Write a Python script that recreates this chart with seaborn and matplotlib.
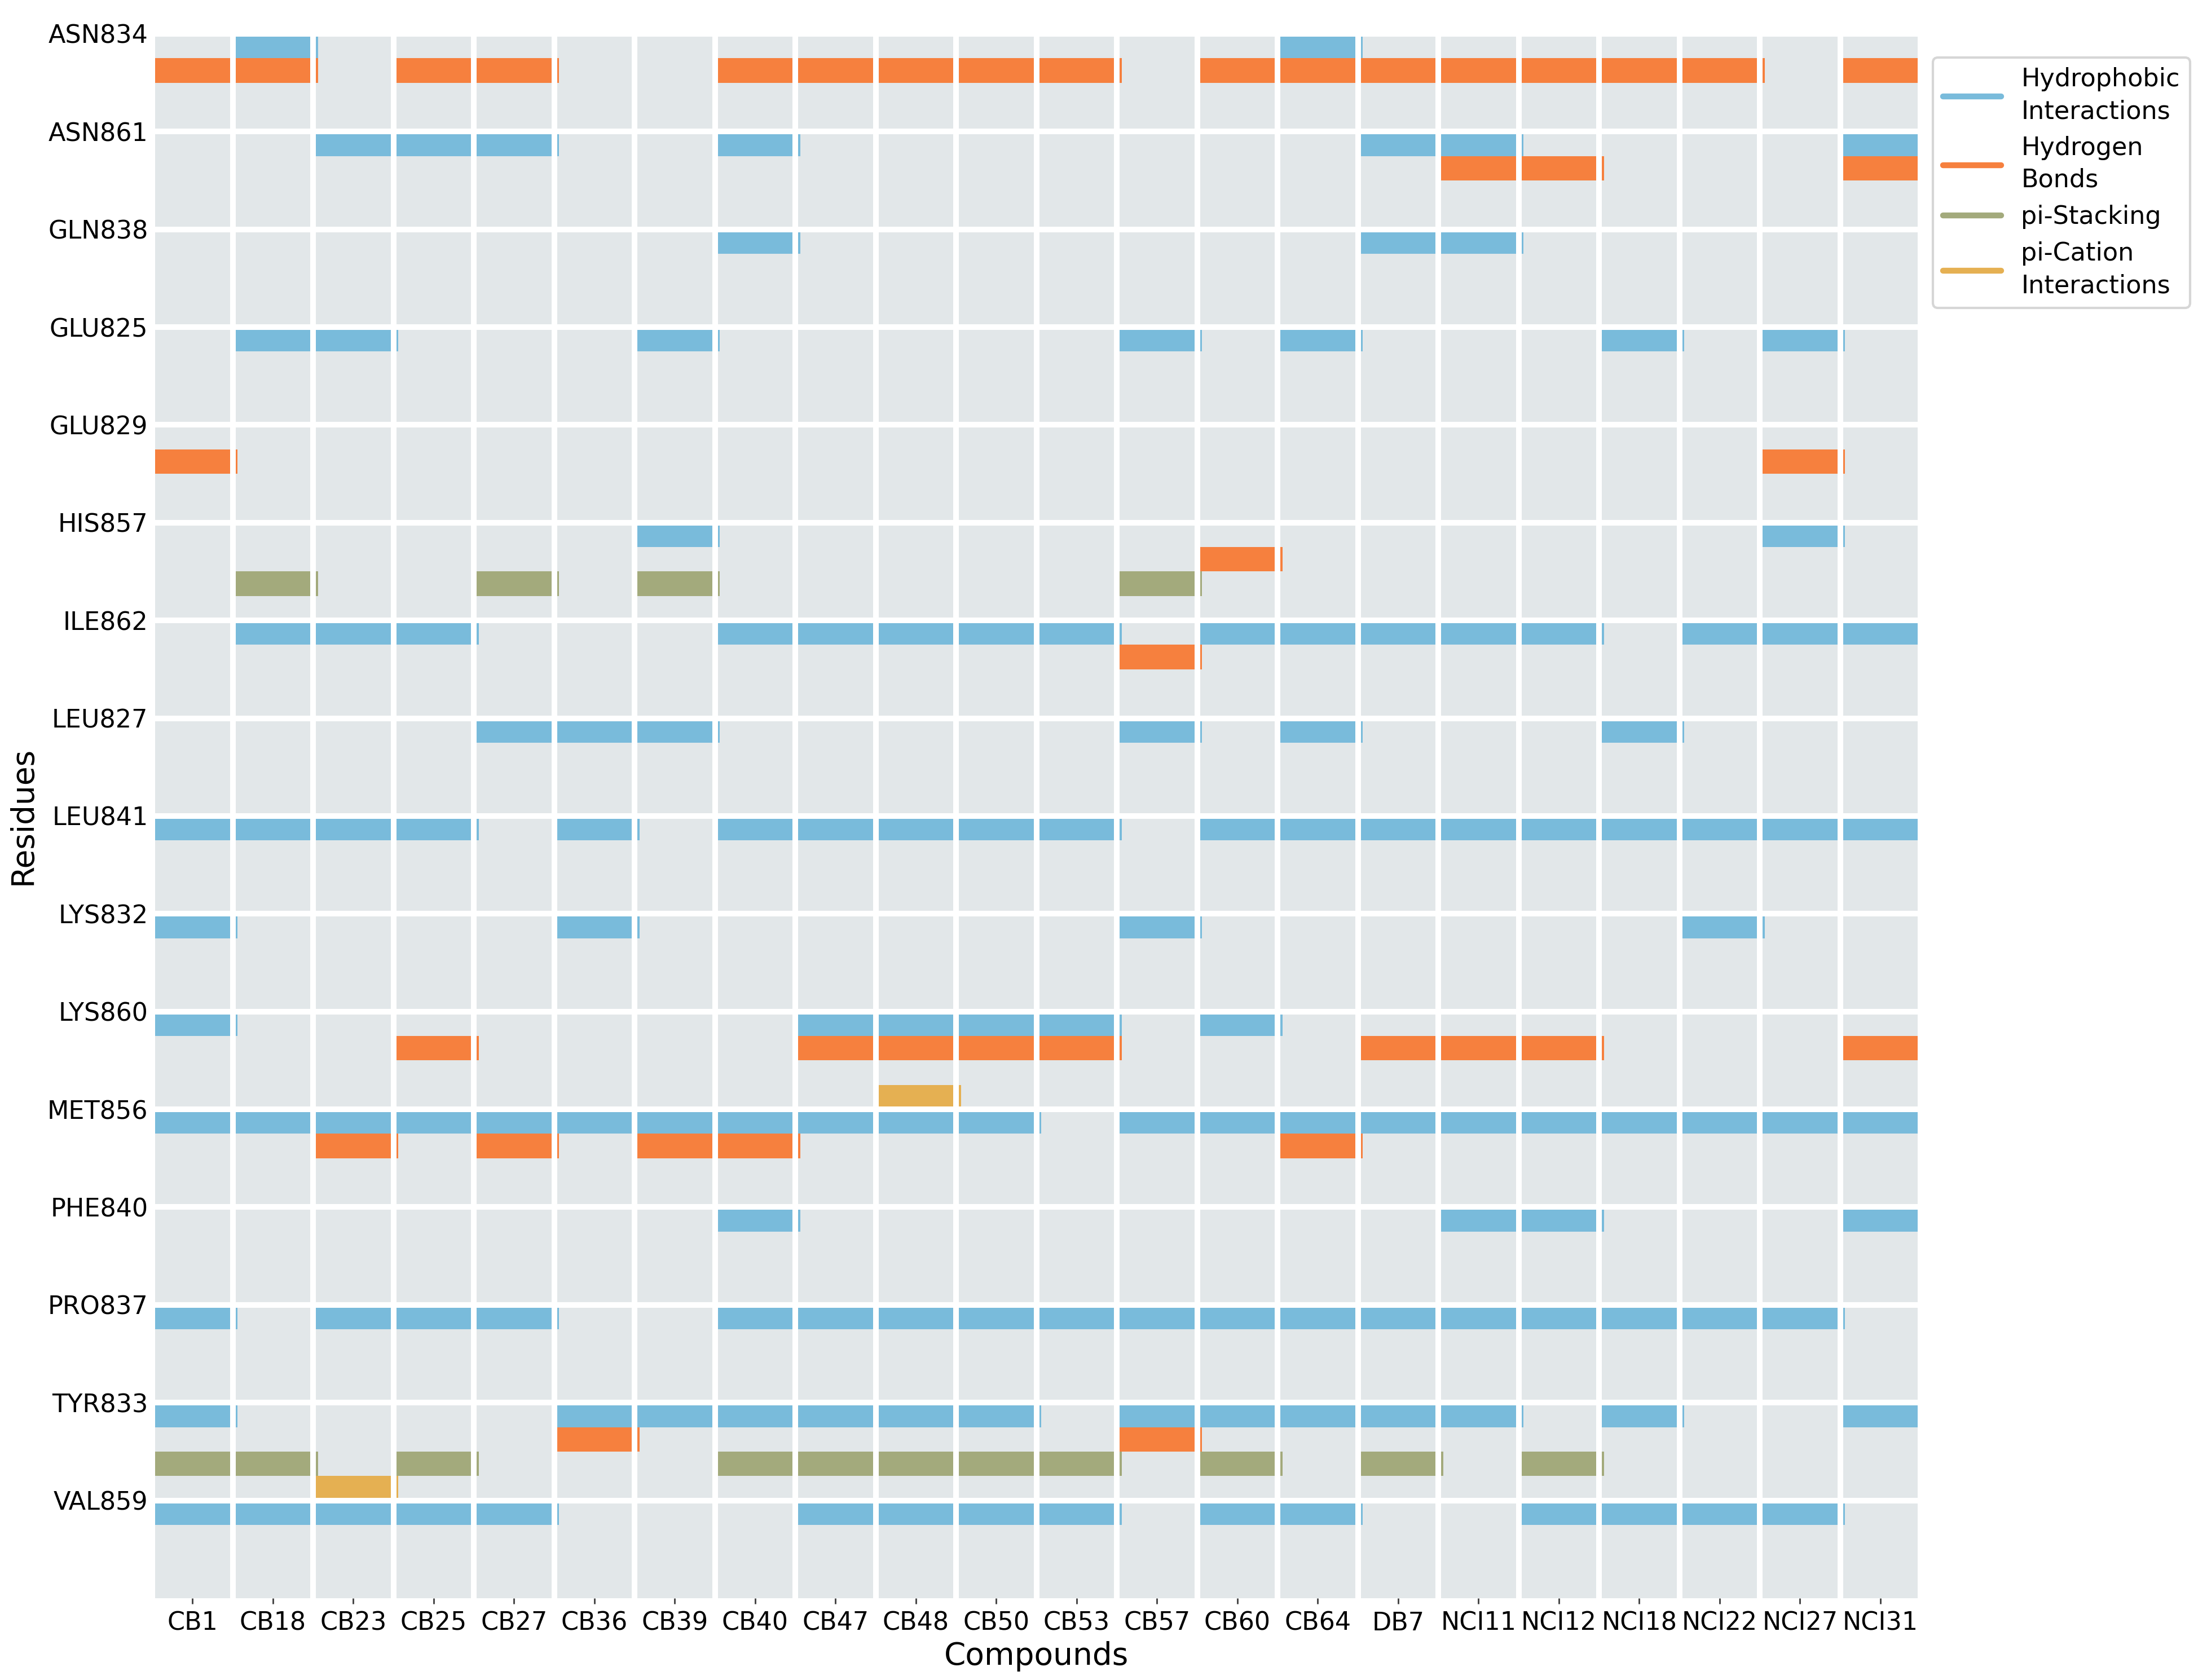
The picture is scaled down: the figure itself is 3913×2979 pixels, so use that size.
import numpy as np
import pandas as pd
import matplotlib
matplotlib.use("Agg")
import matplotlib.pyplot as plt
import seaborn as sns
from matplotlib.lines import Line2D

compounds = ["CB1", "CB18", "CB23", "CB25", "CB27", "CB36", "CB39", "CB40", "CB47",
             "CB48", "CB50", "CB53", "CB57", "CB60", "CB64", "DB7", "NCI11", "NCI12",
             "NCI18", "NCI22", "NCI27", "NCI31"]
residues = ["ASN834", "ASN861", "GLN838", "GLU825", "GLU829", "HIS857", "ILE862", "LEU827",
            "LEU841", "LYS832", "LYS860", "MET856", "PHE840", "PRO837", "TYR833", "VAL859"]

# residue -> compounds showing that interaction
hydrophobic = {
    "ASN834": ["CB18", "CB64"],
    "ASN861": ["CB23", "CB25", "CB27", "CB40", "DB7", "NCI11", "NCI31"],
    "GLN838": ["CB40", "DB7", "NCI11"],
    "GLU825": ["CB18", "CB23", "CB39", "CB57", "CB64", "NCI18", "NCI27"],
    "HIS857": ["CB39", "NCI27"],
    "ILE862": ["CB18", "CB23", "CB25", "CB40", "CB47", "CB48", "CB50", "CB53", "CB60", "CB64",
               "DB7", "NCI11", "NCI12", "NCI22", "NCI27", "NCI31"],
    "LEU827": ["CB27", "CB36", "CB39", "CB57", "CB64", "NCI18"],
    "LEU841": ["CB1", "CB18", "CB23", "CB25", "CB36", "CB40", "CB47", "CB48", "CB50", "CB53",
               "CB60", "CB64", "DB7", "NCI11", "NCI12", "NCI18", "NCI22", "NCI27", "NCI31"],
    "LYS832": ["CB1", "CB36", "CB57", "NCI22"],
    "LYS860": ["CB1", "CB47", "CB48", "CB50", "CB53", "CB60"],
    "MET856": ["CB1", "CB18", "CB23", "CB25", "CB27", "CB36", "CB39", "CB40", "CB47", "CB48",
               "CB50", "CB57", "CB60", "CB64", "DB7", "NCI11", "NCI12", "NCI18", "NCI22",
               "NCI27", "NCI31"],
    "PHE840": ["CB40", "NCI11", "NCI12", "NCI31"],
    "PRO837": ["CB1", "CB23", "CB25", "CB27", "CB40", "CB47", "CB48", "CB50", "CB53", "CB57",
               "CB60", "CB64", "DB7", "NCI11", "NCI12", "NCI18", "NCI22", "NCI27"],
    "TYR833": ["CB1", "CB36", "CB39", "CB40", "CB47", "CB48", "CB50", "CB57", "CB60", "CB64",
               "DB7", "NCI11", "NCI18", "NCI31"],
    "VAL859": ["CB1", "CB18", "CB23", "CB25", "CB27", "CB47", "CB48", "CB50", "CB53", "CB60",
               "CB64", "NCI12", "NCI18", "NCI22", "NCI27"],
}
hbonds = {
    "ASN834": ["CB1", "CB18", "CB25", "CB27", "CB40", "CB47", "CB48", "CB50", "CB53", "CB60",
               "CB64", "DB7", "NCI11", "NCI12", "NCI18", "NCI22", "NCI31"],
    "ASN861": ["NCI11", "NCI12", "NCI31"],
    "GLU829": ["CB1", "NCI27"],
    "HIS857": ["CB60"],
    "ILE862": ["CB57"],
    "LYS860": ["CB25", "CB47", "CB48", "CB50", "CB53", "DB7", "NCI11", "NCI12", "NCI31"],
    "MET856": ["CB23", "CB27", "CB39", "CB40", "CB64"],
    "TYR833": ["CB36", "CB57"],
}
pi_stacking = {
    "HIS857": ["CB18", "CB27", "CB39", "CB57"],
    "TYR833": ["CB1", "CB18", "CB25", "CB40", "CB47", "CB48", "CB50", "CB53", "CB60", "DB7",
               "NCI12"],
}
pi_cation = {
    "LYS860": ["CB48"],
    "TYR833": ["CB23"],
}

interactions = ["Hydrophobic\nInteractions", "Hydrogen\nBonds", "pi-Stacking",
                "pi-Cation\nInteractions"]
colors = ["#79bbdb", "#f6803e", "#a3aa7c", "#e5b052"]

rows = []
for k, table in enumerate([hydrophobic, hbonds, pi_stacking, pi_cation]):
    for res, comps in table.items():
        for c in comps:
            rows.append({"residue": res, "compound": c, "kind": k})
df = pd.DataFrame(rows)
df["x"] = df.compound.map({c: i for i, c in enumerate(compounds)})
df["y"] = df.residue.map({r: i for i, r in enumerate(residues)}) + df.kind * 0.25

sns.set_theme(style="darkgrid", rc={"axes.facecolor": "#e2e7e9", "grid.color": "white"})
plt.rcParams["font.family"] = ["DejaVu Sans"]
plt.rcParams["text.color"] = "black"
plt.rcParams["axes.labelcolor"] = "black"
plt.rcParams["xtick.color"] = "#444444"

fig = plt.figure(figsize=(3913 / 300, 2979 / 300), dpi=300)
ax = fig.add_axes([0.069, 0.0487, 0.8012, 0.9312])

for k, col in enumerate(colors):
    sub = df[df.kind == k]
    ax.barh(sub.y, 1.06, left=sub.x, height=0.25, align="edge", color=col, linewidth=0)

ax.set_xlim(0, len(compounds))
ax.set_ylim(len(residues), 0)
ax.set_xticks(np.arange(len(compounds)) + 0.5)
ax.set_xticklabels(compounds)
ax.set_xticks(np.arange(len(compounds) + 1), minor=True)
ax.set_yticks(np.arange(len(residues)))
ax.set_yticklabels(residues)

ax.grid(False)
ax.grid(True, axis="x", which="minor", color="white", lw=2.4)
ax.grid(True, axis="y", which="major", color="white", lw=2.4)
ax.set_axisbelow(False)

ax.tick_params(axis="x", which="major", bottom=True, length=2.5, width=0.7,
               labelsize=10.7, labelcolor="black", pad=3)
ax.tick_params(axis="x", which="minor", bottom=False, length=0)
ax.tick_params(axis="y", which="both", left=False, length=0, pad=1.8,
               labelsize=10.7, labelcolor="black")
sns.despine(ax=ax, left=True, bottom=True)

ax.set_xlabel("Compounds", fontsize=13.2, labelpad=2.5)
ax.set_ylabel("Residues", fontsize=13.2)

handles = [Line2D([0], [0], color=c, lw=2.5) for c in colors]
leg = ax.legend(handles, interactions, loc="upper left", bbox_to_anchor=(1, 0.993),
                fontsize=10.7, handlelength=2.3, frameon=True, facecolor="white",
                edgecolor="0.8")
for t in leg.get_texts():
    t.set_linespacing(1.4)

fig.savefig("out.png", dpi=300)
